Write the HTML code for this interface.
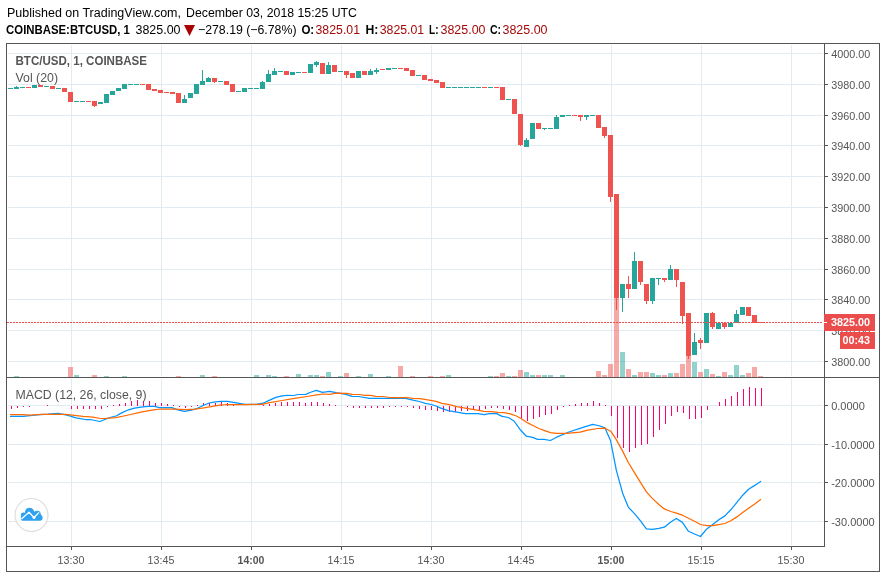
<!DOCTYPE html>
<html lang="en"><head><meta charset="utf-8"><title>BTC/USD - TradingView</title>
<style>
html,body{margin:0;padding:0;background:#fff;}
body{width:886px;height:578px;overflow:hidden;}
svg{display:block;will-change:transform;}
text{font-family:"Liberation Sans",Arial,sans-serif;}
.ax{font-size:11px;fill:#555;}
.hd{font-size:12.5px;fill:#000;}
.b{font-weight:bold;}
.rd{fill:#a80808;}
</style></head><body>
<svg width="886" height="578" viewBox="0 0 886 578">
<rect x="0" y="0" width="886" height="578" fill="#ffffff"/>
<g shape-rendering="crispEdges" fill="#e1ecf2">
<rect x="71" y="45" width="1" height="331"/>
<rect x="71" y="379" width="1" height="166"/>
<rect x="161" y="45" width="1" height="331"/>
<rect x="161" y="379" width="1" height="166"/>
<rect x="251" y="45" width="1" height="331"/>
<rect x="251" y="379" width="1" height="166"/>
<rect x="341" y="45" width="1" height="331"/>
<rect x="341" y="379" width="1" height="166"/>
<rect x="431" y="45" width="1" height="331"/>
<rect x="431" y="379" width="1" height="166"/>
<rect x="521" y="45" width="1" height="331"/>
<rect x="521" y="379" width="1" height="166"/>
<rect x="611" y="45" width="1" height="331"/>
<rect x="611" y="379" width="1" height="166"/>
<rect x="701" y="45" width="1" height="331"/>
<rect x="701" y="379" width="1" height="166"/>
<rect x="791" y="45" width="1" height="331"/>
<rect x="791" y="379" width="1" height="166"/>
<rect x="8" y="53" width="815" height="1"/>
<rect x="8" y="84" width="815" height="1"/>
<rect x="8" y="115" width="815" height="1"/>
<rect x="8" y="145" width="815" height="1"/>
<rect x="8" y="176" width="815" height="1"/>
<rect x="8" y="207" width="815" height="1"/>
<rect x="8" y="238" width="815" height="1"/>
<rect x="8" y="269" width="815" height="1"/>
<rect x="8" y="299" width="815" height="1"/>
<rect x="8" y="330" width="815" height="1"/>
<rect x="8" y="361" width="815" height="1"/>
<rect x="8" y="405" width="815" height="1"/>
<rect x="8" y="444" width="815" height="1"/>
<rect x="8" y="482" width="815" height="1"/>
<rect x="8" y="521" width="815" height="1"/>
</g>
<g shape-rendering="crispEdges">
<rect x="14" y="376" width="5" height="1" fill="rgba(38,166,154,0.5)"/>
<rect x="68" y="367" width="5" height="10" fill="rgba(239,83,80,0.5)"/>
<rect x="74" y="375" width="5" height="2" fill="rgba(38,166,154,0.5)"/>
<rect x="92" y="375" width="5" height="2" fill="rgba(239,83,80,0.5)"/>
<rect x="104" y="376" width="5" height="1" fill="rgba(38,166,154,0.5)"/>
<rect x="122" y="376" width="5" height="1" fill="rgba(38,166,154,0.5)"/>
<rect x="176" y="376" width="5" height="1" fill="rgba(239,83,80,0.5)"/>
<rect x="200" y="375" width="5" height="2" fill="rgba(38,166,154,0.5)"/>
<rect x="212" y="376" width="5" height="1" fill="rgba(239,83,80,0.5)"/>
<rect x="254" y="375" width="5" height="2" fill="rgba(38,166,154,0.5)"/>
<rect x="266" y="375" width="5" height="2" fill="rgba(38,166,154,0.5)"/>
<rect x="272" y="376" width="5" height="1" fill="rgba(38,166,154,0.5)"/>
<rect x="284" y="376" width="5" height="1" fill="rgba(239,83,80,0.5)"/>
<rect x="296" y="374" width="5" height="3" fill="rgba(38,166,154,0.5)"/>
<rect x="308" y="375" width="5" height="2" fill="rgba(38,166,154,0.5)"/>
<rect x="314" y="375" width="5" height="2" fill="rgba(38,166,154,0.5)"/>
<rect x="320" y="376" width="5" height="1" fill="rgba(239,83,80,0.5)"/>
<rect x="326" y="372" width="5" height="5" fill="rgba(38,166,154,0.5)"/>
<rect x="338" y="376" width="5" height="1" fill="rgba(38,166,154,0.5)"/>
<rect x="344" y="373" width="5" height="4" fill="rgba(239,83,80,0.5)"/>
<rect x="356" y="376" width="5" height="1" fill="rgba(38,166,154,0.5)"/>
<rect x="368" y="374" width="5" height="3" fill="rgba(38,166,154,0.5)"/>
<rect x="386" y="376" width="5" height="1" fill="rgba(38,166,154,0.5)"/>
<rect x="398" y="366" width="5" height="11" fill="rgba(239,83,80,0.5)"/>
<rect x="410" y="376" width="5" height="1" fill="rgba(239,83,80,0.5)"/>
<rect x="428" y="376" width="5" height="1" fill="rgba(239,83,80,0.5)"/>
<rect x="440" y="376" width="5" height="1" fill="rgba(239,83,80,0.5)"/>
<rect x="446" y="375" width="5" height="2" fill="rgba(38,166,154,0.5)"/>
<rect x="488" y="376" width="5" height="1" fill="rgba(38,166,154,0.5)"/>
<rect x="494" y="376" width="5" height="1" fill="rgba(239,83,80,0.5)"/>
<rect x="500" y="373" width="5" height="4" fill="rgba(239,83,80,0.5)"/>
<rect x="506" y="376" width="5" height="1" fill="rgba(38,166,154,0.5)"/>
<rect x="512" y="376" width="5" height="1" fill="rgba(239,83,80,0.5)"/>
<rect x="518" y="370" width="5" height="7" fill="rgba(239,83,80,0.5)"/>
<rect x="524" y="372" width="5" height="5" fill="rgba(38,166,154,0.5)"/>
<rect x="530" y="375" width="5" height="2" fill="rgba(38,166,154,0.5)"/>
<rect x="536" y="375" width="5" height="2" fill="rgba(239,83,80,0.5)"/>
<rect x="542" y="375" width="5" height="2" fill="rgba(38,166,154,0.5)"/>
<rect x="548" y="375" width="5" height="2" fill="rgba(38,166,154,0.5)"/>
<rect x="560" y="375" width="5" height="2" fill="rgba(38,166,154,0.5)"/>
<rect x="596" y="371" width="5" height="6" fill="rgba(239,83,80,0.5)"/>
<rect x="602" y="375" width="5" height="2" fill="rgba(239,83,80,0.5)"/>
<rect x="608" y="364" width="5" height="13" fill="rgba(239,83,80,0.5)"/>
<rect x="614" y="298" width="5" height="79" fill="rgba(239,83,80,0.5)"/>
<rect x="620" y="352" width="5" height="25" fill="rgba(38,166,154,0.5)"/>
<rect x="626" y="369" width="5" height="8" fill="rgba(239,83,80,0.5)"/>
<rect x="632" y="375" width="5" height="2" fill="rgba(38,166,154,0.5)"/>
<rect x="638" y="372" width="5" height="5" fill="rgba(239,83,80,0.5)"/>
<rect x="644" y="372" width="5" height="5" fill="rgba(239,83,80,0.5)"/>
<rect x="650" y="373" width="5" height="4" fill="rgba(38,166,154,0.5)"/>
<rect x="656" y="375" width="5" height="2" fill="rgba(38,166,154,0.5)"/>
<rect x="662" y="375" width="5" height="2" fill="rgba(239,83,80,0.5)"/>
<rect x="668" y="373" width="5" height="4" fill="rgba(38,166,154,0.5)"/>
<rect x="674" y="373" width="5" height="4" fill="rgba(239,83,80,0.5)"/>
<rect x="680" y="364" width="5" height="13" fill="rgba(239,83,80,0.5)"/>
<rect x="686" y="356" width="5" height="21" fill="rgba(239,83,80,0.5)"/>
<rect x="692" y="362" width="5" height="15" fill="rgba(38,166,154,0.5)"/>
<rect x="698" y="372" width="5" height="5" fill="rgba(239,83,80,0.5)"/>
<rect x="704" y="369" width="5" height="8" fill="rgba(38,166,154,0.5)"/>
<rect x="710" y="374" width="5" height="3" fill="rgba(239,83,80,0.5)"/>
<rect x="716" y="376" width="5" height="1" fill="rgba(38,166,154,0.5)"/>
<rect x="722" y="372" width="5" height="5" fill="rgba(239,83,80,0.5)"/>
<rect x="728" y="375" width="5" height="2" fill="rgba(38,166,154,0.5)"/>
<rect x="734" y="365" width="5" height="12" fill="rgba(38,166,154,0.5)"/>
<rect x="740" y="375" width="5" height="2" fill="rgba(38,166,154,0.5)"/>
<rect x="746" y="373" width="5" height="4" fill="rgba(239,83,80,0.5)"/>
<rect x="752" y="367" width="5" height="10" fill="rgba(239,83,80,0.5)"/>
<rect x="758" y="376" width="5" height="1" fill="rgba(239,83,80,0.5)"/>
</g>
<g shape-rendering="crispEdges">
<rect x="8" y="88" width="5" height="1" fill="#26a69a"/>
<rect x="16" y="86" width="1" height="3" fill="#26a69a"/>
<rect x="14" y="87" width="5" height="2" fill="#26a69a"/>
<rect x="20" y="87" width="5" height="1" fill="#26a69a"/>
<rect x="26" y="87" width="5" height="1" fill="#ef5350"/>
<rect x="32" y="85" width="5" height="3" fill="#26a69a"/>
<rect x="38" y="85" width="5" height="2" fill="#ef5350"/>
<rect x="44" y="86" width="5" height="1" fill="#26a69a"/>
<rect x="50" y="86" width="5" height="3" fill="#ef5350"/>
<rect x="56" y="88" width="5" height="1" fill="#26a69a"/>
<rect x="62" y="88" width="5" height="4" fill="#ef5350"/>
<rect x="68" y="92" width="5" height="10" fill="#ef5350"/>
<rect x="74" y="101" width="5" height="1" fill="#26a69a"/>
<rect x="80" y="101" width="5" height="1" fill="#26a69a"/>
<rect x="86" y="101" width="5" height="1" fill="#ef5350"/>
<rect x="94" y="101" width="1" height="6" fill="#ef5350"/>
<rect x="92" y="101" width="5" height="5" fill="#ef5350"/>
<rect x="98" y="102" width="5" height="2" fill="#26a69a"/>
<rect x="104" y="94" width="5" height="9" fill="#26a69a"/>
<rect x="110" y="91" width="5" height="4" fill="#26a69a"/>
<rect x="116" y="88" width="5" height="3" fill="#26a69a"/>
<rect x="122" y="84" width="5" height="5" fill="#26a69a"/>
<rect x="128" y="84" width="5" height="1" fill="#26a69a"/>
<rect x="134" y="84" width="5" height="1" fill="#26a69a"/>
<rect x="140" y="84" width="5" height="1" fill="#ef5350"/>
<rect x="146" y="84" width="5" height="6" fill="#ef5350"/>
<rect x="152" y="89" width="5" height="2" fill="#ef5350"/>
<rect x="158" y="90" width="5" height="3" fill="#ef5350"/>
<rect x="164" y="92" width="5" height="1" fill="#ef5350"/>
<rect x="170" y="92" width="5" height="2" fill="#ef5350"/>
<rect x="176" y="93" width="5" height="10" fill="#ef5350"/>
<rect x="184" y="95" width="1" height="8" fill="#26a69a"/>
<rect x="182" y="99" width="5" height="4" fill="#26a69a"/>
<rect x="188" y="93" width="5" height="5" fill="#26a69a"/>
<rect x="194" y="84" width="5" height="10" fill="#26a69a"/>
<rect x="202" y="70" width="1" height="15" fill="#26a69a"/>
<rect x="200" y="81" width="5" height="4" fill="#26a69a"/>
<rect x="208" y="77" width="1" height="5" fill="#26a69a"/>
<rect x="206" y="78" width="5" height="4" fill="#26a69a"/>
<rect x="214" y="78" width="1" height="5" fill="#ef5350"/>
<rect x="212" y="78" width="5" height="4" fill="#ef5350"/>
<rect x="218" y="81" width="5" height="1" fill="#26a69a"/>
<rect x="224" y="81" width="5" height="4" fill="#ef5350"/>
<rect x="230" y="84" width="5" height="8" fill="#ef5350"/>
<rect x="236" y="91" width="5" height="1" fill="#26a69a"/>
<rect x="242" y="88" width="5" height="4" fill="#26a69a"/>
<rect x="248" y="88" width="5" height="1" fill="#26a69a"/>
<rect x="254" y="88" width="5" height="1" fill="#26a69a"/>
<rect x="262" y="81" width="1" height="8" fill="#26a69a"/>
<rect x="260" y="82" width="5" height="7" fill="#26a69a"/>
<rect x="268" y="70" width="1" height="12" fill="#26a69a"/>
<rect x="266" y="74" width="5" height="8" fill="#26a69a"/>
<rect x="274" y="68" width="1" height="7" fill="#26a69a"/>
<rect x="272" y="71" width="5" height="4" fill="#26a69a"/>
<rect x="278" y="71" width="5" height="1" fill="#26a69a"/>
<rect x="284" y="71" width="5" height="4" fill="#ef5350"/>
<rect x="290" y="72" width="5" height="3" fill="#26a69a"/>
<rect x="296" y="72" width="5" height="1" fill="#26a69a"/>
<rect x="302" y="72" width="5" height="1" fill="#ef5350"/>
<rect x="308" y="64" width="5" height="9" fill="#26a69a"/>
<rect x="316" y="61" width="1" height="6" fill="#26a69a"/>
<rect x="314" y="62" width="5" height="3" fill="#26a69a"/>
<rect x="320" y="63" width="5" height="11" fill="#ef5350"/>
<rect x="328" y="62" width="1" height="12" fill="#26a69a"/>
<rect x="326" y="65" width="5" height="9" fill="#26a69a"/>
<rect x="332" y="65" width="5" height="7" fill="#ef5350"/>
<rect x="338" y="71" width="5" height="1" fill="#26a69a"/>
<rect x="346" y="71" width="1" height="7" fill="#ef5350"/>
<rect x="344" y="71" width="5" height="4" fill="#ef5350"/>
<rect x="350" y="73" width="5" height="5" fill="#ef5350"/>
<rect x="356" y="71" width="5" height="7" fill="#26a69a"/>
<rect x="362" y="71" width="5" height="4" fill="#ef5350"/>
<rect x="370" y="69" width="1" height="6" fill="#26a69a"/>
<rect x="368" y="71" width="5" height="4" fill="#26a69a"/>
<rect x="376" y="68" width="1" height="6" fill="#26a69a"/>
<rect x="374" y="70" width="5" height="2" fill="#26a69a"/>
<rect x="380" y="69" width="5" height="1" fill="#ef5350"/>
<rect x="386" y="68" width="5" height="2" fill="#26a69a"/>
<rect x="392" y="68" width="5" height="1" fill="#26a69a"/>
<rect x="398" y="68" width="5" height="1" fill="#ef5350"/>
<rect x="404" y="68" width="5" height="3" fill="#ef5350"/>
<rect x="410" y="70" width="5" height="6" fill="#ef5350"/>
<rect x="416" y="75" width="5" height="1" fill="#26a69a"/>
<rect x="422" y="75" width="5" height="5" fill="#ef5350"/>
<rect x="428" y="79" width="5" height="2" fill="#ef5350"/>
<rect x="434" y="80" width="5" height="3" fill="#ef5350"/>
<rect x="440" y="82" width="5" height="6" fill="#ef5350"/>
<rect x="446" y="87" width="5" height="1" fill="#26a69a"/>
<rect x="452" y="87" width="5" height="1" fill="#26a69a"/>
<rect x="458" y="87" width="5" height="1" fill="#26a69a"/>
<rect x="464" y="87" width="5" height="1" fill="#26a69a"/>
<rect x="470" y="87" width="5" height="1" fill="#26a69a"/>
<rect x="476" y="87" width="5" height="1" fill="#26a69a"/>
<rect x="482" y="87" width="5" height="1" fill="#ef5350"/>
<rect x="488" y="87" width="5" height="1" fill="#26a69a"/>
<rect x="494" y="87" width="5" height="1" fill="#ef5350"/>
<rect x="500" y="87" width="5" height="13" fill="#ef5350"/>
<rect x="506" y="99" width="5" height="1" fill="#26a69a"/>
<rect x="512" y="99" width="5" height="15" fill="#ef5350"/>
<rect x="520" y="114" width="1" height="32" fill="#ef5350"/>
<rect x="518" y="114" width="5" height="31" fill="#ef5350"/>
<rect x="526" y="138" width="1" height="9" fill="#26a69a"/>
<rect x="524" y="140" width="5" height="7" fill="#26a69a"/>
<rect x="530" y="123" width="5" height="16" fill="#26a69a"/>
<rect x="536" y="123" width="5" height="6" fill="#ef5350"/>
<rect x="544" y="128" width="1" height="2" fill="#26a69a"/>
<rect x="542" y="128" width="5" height="1" fill="#26a69a"/>
<rect x="548" y="128" width="5" height="1" fill="#26a69a"/>
<rect x="556" y="115" width="1" height="14" fill="#26a69a"/>
<rect x="554" y="117" width="5" height="12" fill="#26a69a"/>
<rect x="560" y="115" width="5" height="2" fill="#26a69a"/>
<rect x="566" y="115" width="5" height="1" fill="#26a69a"/>
<rect x="572" y="115" width="5" height="1" fill="#ef5350"/>
<rect x="580" y="115" width="1" height="6" fill="#ef5350"/>
<rect x="578" y="115" width="5" height="2" fill="#ef5350"/>
<rect x="586" y="115" width="1" height="5" fill="#26a69a"/>
<rect x="584" y="115" width="5" height="2" fill="#26a69a"/>
<rect x="590" y="115" width="5" height="1" fill="#26a69a"/>
<rect x="596" y="115" width="5" height="13" fill="#ef5350"/>
<rect x="604" y="127" width="1" height="11" fill="#ef5350"/>
<rect x="602" y="127" width="5" height="9" fill="#ef5350"/>
<rect x="610" y="135" width="1" height="67" fill="#ef5350"/>
<rect x="608" y="135" width="5" height="62" fill="#ef5350"/>
<rect x="616" y="194" width="1" height="116" fill="#ef5350"/>
<rect x="614" y="194" width="5" height="104" fill="#ef5350"/>
<rect x="622" y="284" width="1" height="28" fill="#26a69a"/>
<rect x="620" y="284" width="5" height="14" fill="#26a69a"/>
<rect x="628" y="276" width="1" height="22" fill="#ef5350"/>
<rect x="626" y="284" width="5" height="5" fill="#ef5350"/>
<rect x="634" y="252" width="1" height="37" fill="#26a69a"/>
<rect x="632" y="261" width="5" height="28" fill="#26a69a"/>
<rect x="640" y="261" width="1" height="24" fill="#ef5350"/>
<rect x="638" y="261" width="5" height="21" fill="#ef5350"/>
<rect x="646" y="284" width="1" height="20" fill="#ef5350"/>
<rect x="644" y="284" width="5" height="17" fill="#ef5350"/>
<rect x="652" y="278" width="1" height="26" fill="#26a69a"/>
<rect x="650" y="278" width="5" height="23" fill="#26a69a"/>
<rect x="658" y="278" width="1" height="7" fill="#26a69a"/>
<rect x="656" y="278" width="5" height="1" fill="#26a69a"/>
<rect x="664" y="278" width="1" height="4" fill="#ef5350"/>
<rect x="662" y="278" width="5" height="2" fill="#ef5350"/>
<rect x="670" y="265" width="1" height="15" fill="#26a69a"/>
<rect x="668" y="269" width="5" height="11" fill="#26a69a"/>
<rect x="676" y="269" width="1" height="18" fill="#ef5350"/>
<rect x="674" y="269" width="5" height="11" fill="#ef5350"/>
<rect x="682" y="282" width="1" height="42" fill="#ef5350"/>
<rect x="680" y="282" width="5" height="34" fill="#ef5350"/>
<rect x="688" y="313" width="1" height="46" fill="#ef5350"/>
<rect x="686" y="313" width="5" height="43" fill="#ef5350"/>
<rect x="694" y="333" width="1" height="22" fill="#26a69a"/>
<rect x="692" y="342" width="5" height="13" fill="#26a69a"/>
<rect x="700" y="338" width="1" height="11" fill="#ef5350"/>
<rect x="698" y="340" width="5" height="3" fill="#ef5350"/>
<rect x="704" y="313" width="5" height="30" fill="#26a69a"/>
<rect x="712" y="312" width="1" height="17" fill="#ef5350"/>
<rect x="710" y="313" width="5" height="14" fill="#ef5350"/>
<rect x="716" y="323" width="5" height="6" fill="#26a69a"/>
<rect x="724" y="322" width="1" height="7" fill="#ef5350"/>
<rect x="722" y="323" width="5" height="4" fill="#ef5350"/>
<rect x="728" y="323" width="5" height="4" fill="#26a69a"/>
<rect x="736" y="310" width="1" height="13" fill="#26a69a"/>
<rect x="734" y="314" width="5" height="9" fill="#26a69a"/>
<rect x="740" y="307" width="5" height="8" fill="#26a69a"/>
<rect x="746" y="307" width="5" height="9" fill="#ef5350"/>
<rect x="752" y="315" width="5" height="8" fill="#ef5350"/>
<rect x="758" y="322" width="5" height="1" fill="#ef5350"/>
</g>
<g shape-rendering="crispEdges" fill="#eb4d4d">
<rect x="7" y="322" width="2" height="1"/>
<rect x="10" y="322" width="2" height="1"/>
<rect x="13" y="322" width="2" height="1"/>
<rect x="16" y="322" width="2" height="1"/>
<rect x="19" y="322" width="2" height="1"/>
<rect x="22" y="322" width="2" height="1"/>
<rect x="25" y="322" width="2" height="1"/>
<rect x="28" y="322" width="2" height="1"/>
<rect x="31" y="322" width="2" height="1"/>
<rect x="34" y="322" width="2" height="1"/>
<rect x="37" y="322" width="2" height="1"/>
<rect x="40" y="322" width="2" height="1"/>
<rect x="43" y="322" width="2" height="1"/>
<rect x="46" y="322" width="2" height="1"/>
<rect x="49" y="322" width="2" height="1"/>
<rect x="52" y="322" width="2" height="1"/>
<rect x="55" y="322" width="2" height="1"/>
<rect x="58" y="322" width="2" height="1"/>
<rect x="61" y="322" width="2" height="1"/>
<rect x="64" y="322" width="2" height="1"/>
<rect x="67" y="322" width="2" height="1"/>
<rect x="70" y="322" width="2" height="1"/>
<rect x="73" y="322" width="2" height="1"/>
<rect x="76" y="322" width="2" height="1"/>
<rect x="79" y="322" width="2" height="1"/>
<rect x="82" y="322" width="2" height="1"/>
<rect x="85" y="322" width="2" height="1"/>
<rect x="88" y="322" width="2" height="1"/>
<rect x="91" y="322" width="2" height="1"/>
<rect x="94" y="322" width="2" height="1"/>
<rect x="97" y="322" width="2" height="1"/>
<rect x="100" y="322" width="2" height="1"/>
<rect x="103" y="322" width="2" height="1"/>
<rect x="106" y="322" width="2" height="1"/>
<rect x="109" y="322" width="2" height="1"/>
<rect x="112" y="322" width="2" height="1"/>
<rect x="115" y="322" width="2" height="1"/>
<rect x="118" y="322" width="2" height="1"/>
<rect x="121" y="322" width="2" height="1"/>
<rect x="124" y="322" width="2" height="1"/>
<rect x="127" y="322" width="2" height="1"/>
<rect x="130" y="322" width="2" height="1"/>
<rect x="133" y="322" width="2" height="1"/>
<rect x="136" y="322" width="2" height="1"/>
<rect x="139" y="322" width="2" height="1"/>
<rect x="142" y="322" width="2" height="1"/>
<rect x="145" y="322" width="2" height="1"/>
<rect x="148" y="322" width="2" height="1"/>
<rect x="151" y="322" width="2" height="1"/>
<rect x="154" y="322" width="2" height="1"/>
<rect x="157" y="322" width="2" height="1"/>
<rect x="160" y="322" width="2" height="1"/>
<rect x="163" y="322" width="2" height="1"/>
<rect x="166" y="322" width="2" height="1"/>
<rect x="169" y="322" width="2" height="1"/>
<rect x="172" y="322" width="2" height="1"/>
<rect x="175" y="322" width="2" height="1"/>
<rect x="178" y="322" width="2" height="1"/>
<rect x="181" y="322" width="2" height="1"/>
<rect x="184" y="322" width="2" height="1"/>
<rect x="187" y="322" width="2" height="1"/>
<rect x="190" y="322" width="2" height="1"/>
<rect x="193" y="322" width="2" height="1"/>
<rect x="196" y="322" width="2" height="1"/>
<rect x="199" y="322" width="2" height="1"/>
<rect x="202" y="322" width="2" height="1"/>
<rect x="205" y="322" width="2" height="1"/>
<rect x="208" y="322" width="2" height="1"/>
<rect x="211" y="322" width="2" height="1"/>
<rect x="214" y="322" width="2" height="1"/>
<rect x="217" y="322" width="2" height="1"/>
<rect x="220" y="322" width="2" height="1"/>
<rect x="223" y="322" width="2" height="1"/>
<rect x="226" y="322" width="2" height="1"/>
<rect x="229" y="322" width="2" height="1"/>
<rect x="232" y="322" width="2" height="1"/>
<rect x="235" y="322" width="2" height="1"/>
<rect x="238" y="322" width="2" height="1"/>
<rect x="241" y="322" width="2" height="1"/>
<rect x="244" y="322" width="2" height="1"/>
<rect x="247" y="322" width="2" height="1"/>
<rect x="250" y="322" width="2" height="1"/>
<rect x="253" y="322" width="2" height="1"/>
<rect x="256" y="322" width="2" height="1"/>
<rect x="259" y="322" width="2" height="1"/>
<rect x="262" y="322" width="2" height="1"/>
<rect x="265" y="322" width="2" height="1"/>
<rect x="268" y="322" width="2" height="1"/>
<rect x="271" y="322" width="2" height="1"/>
<rect x="274" y="322" width="2" height="1"/>
<rect x="277" y="322" width="2" height="1"/>
<rect x="280" y="322" width="2" height="1"/>
<rect x="283" y="322" width="2" height="1"/>
<rect x="286" y="322" width="2" height="1"/>
<rect x="289" y="322" width="2" height="1"/>
<rect x="292" y="322" width="2" height="1"/>
<rect x="295" y="322" width="2" height="1"/>
<rect x="298" y="322" width="2" height="1"/>
<rect x="301" y="322" width="2" height="1"/>
<rect x="304" y="322" width="2" height="1"/>
<rect x="307" y="322" width="2" height="1"/>
<rect x="310" y="322" width="2" height="1"/>
<rect x="313" y="322" width="2" height="1"/>
<rect x="316" y="322" width="2" height="1"/>
<rect x="319" y="322" width="2" height="1"/>
<rect x="322" y="322" width="2" height="1"/>
<rect x="325" y="322" width="2" height="1"/>
<rect x="328" y="322" width="2" height="1"/>
<rect x="331" y="322" width="2" height="1"/>
<rect x="334" y="322" width="2" height="1"/>
<rect x="337" y="322" width="2" height="1"/>
<rect x="340" y="322" width="2" height="1"/>
<rect x="343" y="322" width="2" height="1"/>
<rect x="346" y="322" width="2" height="1"/>
<rect x="349" y="322" width="2" height="1"/>
<rect x="352" y="322" width="2" height="1"/>
<rect x="355" y="322" width="2" height="1"/>
<rect x="358" y="322" width="2" height="1"/>
<rect x="361" y="322" width="2" height="1"/>
<rect x="364" y="322" width="2" height="1"/>
<rect x="367" y="322" width="2" height="1"/>
<rect x="370" y="322" width="2" height="1"/>
<rect x="373" y="322" width="2" height="1"/>
<rect x="376" y="322" width="2" height="1"/>
<rect x="379" y="322" width="2" height="1"/>
<rect x="382" y="322" width="2" height="1"/>
<rect x="385" y="322" width="2" height="1"/>
<rect x="388" y="322" width="2" height="1"/>
<rect x="391" y="322" width="2" height="1"/>
<rect x="394" y="322" width="2" height="1"/>
<rect x="397" y="322" width="2" height="1"/>
<rect x="400" y="322" width="2" height="1"/>
<rect x="403" y="322" width="2" height="1"/>
<rect x="406" y="322" width="2" height="1"/>
<rect x="409" y="322" width="2" height="1"/>
<rect x="412" y="322" width="2" height="1"/>
<rect x="415" y="322" width="2" height="1"/>
<rect x="418" y="322" width="2" height="1"/>
<rect x="421" y="322" width="2" height="1"/>
<rect x="424" y="322" width="2" height="1"/>
<rect x="427" y="322" width="2" height="1"/>
<rect x="430" y="322" width="2" height="1"/>
<rect x="433" y="322" width="2" height="1"/>
<rect x="436" y="322" width="2" height="1"/>
<rect x="439" y="322" width="2" height="1"/>
<rect x="442" y="322" width="2" height="1"/>
<rect x="445" y="322" width="2" height="1"/>
<rect x="448" y="322" width="2" height="1"/>
<rect x="451" y="322" width="2" height="1"/>
<rect x="454" y="322" width="2" height="1"/>
<rect x="457" y="322" width="2" height="1"/>
<rect x="460" y="322" width="2" height="1"/>
<rect x="463" y="322" width="2" height="1"/>
<rect x="466" y="322" width="2" height="1"/>
<rect x="469" y="322" width="2" height="1"/>
<rect x="472" y="322" width="2" height="1"/>
<rect x="475" y="322" width="2" height="1"/>
<rect x="478" y="322" width="2" height="1"/>
<rect x="481" y="322" width="2" height="1"/>
<rect x="484" y="322" width="2" height="1"/>
<rect x="487" y="322" width="2" height="1"/>
<rect x="490" y="322" width="2" height="1"/>
<rect x="493" y="322" width="2" height="1"/>
<rect x="496" y="322" width="2" height="1"/>
<rect x="499" y="322" width="2" height="1"/>
<rect x="502" y="322" width="2" height="1"/>
<rect x="505" y="322" width="2" height="1"/>
<rect x="508" y="322" width="2" height="1"/>
<rect x="511" y="322" width="2" height="1"/>
<rect x="514" y="322" width="2" height="1"/>
<rect x="517" y="322" width="2" height="1"/>
<rect x="520" y="322" width="2" height="1"/>
<rect x="523" y="322" width="2" height="1"/>
<rect x="526" y="322" width="2" height="1"/>
<rect x="529" y="322" width="2" height="1"/>
<rect x="532" y="322" width="2" height="1"/>
<rect x="535" y="322" width="2" height="1"/>
<rect x="538" y="322" width="2" height="1"/>
<rect x="541" y="322" width="2" height="1"/>
<rect x="544" y="322" width="2" height="1"/>
<rect x="547" y="322" width="2" height="1"/>
<rect x="550" y="322" width="2" height="1"/>
<rect x="553" y="322" width="2" height="1"/>
<rect x="556" y="322" width="2" height="1"/>
<rect x="559" y="322" width="2" height="1"/>
<rect x="562" y="322" width="2" height="1"/>
<rect x="565" y="322" width="2" height="1"/>
<rect x="568" y="322" width="2" height="1"/>
<rect x="571" y="322" width="2" height="1"/>
<rect x="574" y="322" width="2" height="1"/>
<rect x="577" y="322" width="2" height="1"/>
<rect x="580" y="322" width="2" height="1"/>
<rect x="583" y="322" width="2" height="1"/>
<rect x="586" y="322" width="2" height="1"/>
<rect x="589" y="322" width="2" height="1"/>
<rect x="592" y="322" width="2" height="1"/>
<rect x="595" y="322" width="2" height="1"/>
<rect x="598" y="322" width="2" height="1"/>
<rect x="601" y="322" width="2" height="1"/>
<rect x="604" y="322" width="2" height="1"/>
<rect x="607" y="322" width="2" height="1"/>
<rect x="610" y="322" width="2" height="1"/>
<rect x="613" y="322" width="2" height="1"/>
<rect x="616" y="322" width="2" height="1"/>
<rect x="619" y="322" width="2" height="1"/>
<rect x="622" y="322" width="2" height="1"/>
<rect x="625" y="322" width="2" height="1"/>
<rect x="628" y="322" width="2" height="1"/>
<rect x="631" y="322" width="2" height="1"/>
<rect x="634" y="322" width="2" height="1"/>
<rect x="637" y="322" width="2" height="1"/>
<rect x="640" y="322" width="2" height="1"/>
<rect x="643" y="322" width="2" height="1"/>
<rect x="646" y="322" width="2" height="1"/>
<rect x="649" y="322" width="2" height="1"/>
<rect x="652" y="322" width="2" height="1"/>
<rect x="655" y="322" width="2" height="1"/>
<rect x="658" y="322" width="2" height="1"/>
<rect x="661" y="322" width="2" height="1"/>
<rect x="664" y="322" width="2" height="1"/>
<rect x="667" y="322" width="2" height="1"/>
<rect x="670" y="322" width="2" height="1"/>
<rect x="673" y="322" width="2" height="1"/>
<rect x="676" y="322" width="2" height="1"/>
<rect x="679" y="322" width="2" height="1"/>
<rect x="682" y="322" width="2" height="1"/>
<rect x="685" y="322" width="2" height="1"/>
<rect x="688" y="322" width="2" height="1"/>
<rect x="691" y="322" width="2" height="1"/>
<rect x="694" y="322" width="2" height="1"/>
<rect x="697" y="322" width="2" height="1"/>
<rect x="700" y="322" width="2" height="1"/>
<rect x="703" y="322" width="2" height="1"/>
<rect x="706" y="322" width="2" height="1"/>
<rect x="709" y="322" width="2" height="1"/>
<rect x="712" y="322" width="2" height="1"/>
<rect x="715" y="322" width="2" height="1"/>
<rect x="718" y="322" width="2" height="1"/>
<rect x="721" y="322" width="2" height="1"/>
<rect x="724" y="322" width="2" height="1"/>
<rect x="727" y="322" width="2" height="1"/>
<rect x="730" y="322" width="2" height="1"/>
<rect x="733" y="322" width="2" height="1"/>
<rect x="736" y="322" width="2" height="1"/>
<rect x="739" y="322" width="2" height="1"/>
<rect x="742" y="322" width="2" height="1"/>
<rect x="745" y="322" width="2" height="1"/>
<rect x="748" y="322" width="2" height="1"/>
<rect x="751" y="322" width="2" height="1"/>
<rect x="754" y="322" width="2" height="1"/>
<rect x="757" y="322" width="2" height="1"/>
<rect x="760" y="322" width="2" height="1"/>
<rect x="763" y="322" width="2" height="1"/>
<rect x="766" y="322" width="2" height="1"/>
<rect x="769" y="322" width="2" height="1"/>
<rect x="772" y="322" width="2" height="1"/>
<rect x="775" y="322" width="2" height="1"/>
<rect x="778" y="322" width="2" height="1"/>
<rect x="781" y="322" width="2" height="1"/>
<rect x="784" y="322" width="2" height="1"/>
<rect x="787" y="322" width="2" height="1"/>
<rect x="790" y="322" width="2" height="1"/>
<rect x="793" y="322" width="2" height="1"/>
<rect x="796" y="322" width="2" height="1"/>
<rect x="799" y="322" width="2" height="1"/>
<rect x="802" y="322" width="2" height="1"/>
<rect x="805" y="322" width="2" height="1"/>
<rect x="808" y="322" width="2" height="1"/>
<rect x="811" y="322" width="2" height="1"/>
<rect x="814" y="322" width="2" height="1"/>
<rect x="817" y="322" width="2" height="1"/>
<rect x="820" y="322" width="2" height="1"/>
</g>
<g shape-rendering="crispEdges" fill="#ff006e">
<rect x="11" y="406" width="1" height="3"/>
<rect x="17" y="406" width="1" height="2"/>
<rect x="23" y="406" width="1" height="1"/>
<rect x="29" y="406" width="1" height="1"/>
<rect x="47" y="405" width="1" height="1"/>
<rect x="71" y="406" width="1" height="3"/>
<rect x="77" y="406" width="1" height="3"/>
<rect x="83" y="406" width="1" height="3"/>
<rect x="89" y="406" width="1" height="3"/>
<rect x="95" y="406" width="1" height="3"/>
<rect x="101" y="406" width="1" height="3"/>
<rect x="107" y="406" width="1" height="1"/>
<rect x="113" y="405" width="1" height="1"/>
<rect x="119" y="404" width="1" height="2"/>
<rect x="125" y="403" width="1" height="3"/>
<rect x="131" y="401" width="1" height="5"/>
<rect x="137" y="400" width="1" height="6"/>
<rect x="143" y="401" width="1" height="5"/>
<rect x="149" y="401" width="1" height="5"/>
<rect x="155" y="403" width="1" height="3"/>
<rect x="161" y="403" width="1" height="3"/>
<rect x="167" y="404" width="1" height="2"/>
<rect x="173" y="405" width="1" height="1"/>
<rect x="179" y="406" width="1" height="1"/>
<rect x="185" y="406" width="1" height="2"/>
<rect x="191" y="406" width="1" height="1"/>
<rect x="197" y="405" width="1" height="1"/>
<rect x="203" y="403" width="1" height="3"/>
<rect x="209" y="403" width="1" height="3"/>
<rect x="215" y="403" width="1" height="3"/>
<rect x="221" y="402" width="1" height="4"/>
<rect x="227" y="403" width="1" height="3"/>
<rect x="233" y="405" width="1" height="1"/>
<rect x="263" y="405" width="1" height="1"/>
<rect x="269" y="404" width="1" height="2"/>
<rect x="275" y="403" width="1" height="3"/>
<rect x="281" y="402" width="1" height="4"/>
<rect x="287" y="402" width="1" height="4"/>
<rect x="293" y="402" width="1" height="4"/>
<rect x="299" y="402" width="1" height="4"/>
<rect x="305" y="403" width="1" height="3"/>
<rect x="311" y="402" width="1" height="4"/>
<rect x="317" y="402" width="1" height="4"/>
<rect x="323" y="403" width="1" height="3"/>
<rect x="329" y="404" width="1" height="2"/>
<rect x="335" y="405" width="1" height="1"/>
<rect x="347" y="406" width="1" height="1"/>
<rect x="353" y="406" width="1" height="2"/>
<rect x="359" y="406" width="1" height="2"/>
<rect x="365" y="406" width="1" height="2"/>
<rect x="371" y="406" width="1" height="2"/>
<rect x="377" y="406" width="1" height="2"/>
<rect x="383" y="406" width="1" height="2"/>
<rect x="389" y="406" width="1" height="1"/>
<rect x="395" y="406" width="1" height="1"/>
<rect x="401" y="406" width="1" height="1"/>
<rect x="407" y="406" width="1" height="1"/>
<rect x="413" y="406" width="1" height="2"/>
<rect x="419" y="406" width="1" height="3"/>
<rect x="425" y="406" width="1" height="4"/>
<rect x="431" y="406" width="1" height="4"/>
<rect x="437" y="406" width="1" height="5"/>
<rect x="443" y="406" width="1" height="6"/>
<rect x="449" y="406" width="1" height="6"/>
<rect x="455" y="406" width="1" height="6"/>
<rect x="461" y="406" width="1" height="5"/>
<rect x="467" y="406" width="1" height="5"/>
<rect x="473" y="406" width="1" height="4"/>
<rect x="479" y="406" width="1" height="4"/>
<rect x="485" y="406" width="1" height="3"/>
<rect x="491" y="406" width="1" height="2"/>
<rect x="497" y="406" width="1" height="2"/>
<rect x="503" y="406" width="1" height="3"/>
<rect x="509" y="406" width="1" height="4"/>
<rect x="515" y="406" width="1" height="6"/>
<rect x="521" y="406" width="1" height="12"/>
<rect x="527" y="406" width="1" height="15"/>
<rect x="533" y="406" width="1" height="13"/>
<rect x="539" y="406" width="1" height="11"/>
<rect x="545" y="406" width="1" height="9"/>
<rect x="551" y="406" width="1" height="8"/>
<rect x="557" y="406" width="1" height="4"/>
<rect x="563" y="406" width="1" height="1"/>
<rect x="569" y="405" width="1" height="1"/>
<rect x="575" y="404" width="1" height="2"/>
<rect x="581" y="403" width="1" height="3"/>
<rect x="587" y="403" width="1" height="3"/>
<rect x="593" y="401" width="1" height="5"/>
<rect x="599" y="403" width="1" height="3"/>
<rect x="605" y="405" width="1" height="1"/>
<rect x="611" y="406" width="1" height="10"/>
<rect x="617" y="406" width="1" height="32"/>
<rect x="623" y="406" width="1" height="42"/>
<rect x="629" y="406" width="1" height="46"/>
<rect x="635" y="406" width="1" height="42"/>
<rect x="641" y="406" width="1" height="39"/>
<rect x="647" y="406" width="1" height="38"/>
<rect x="653" y="406" width="1" height="31"/>
<rect x="659" y="406" width="1" height="24"/>
<rect x="665" y="406" width="1" height="18"/>
<rect x="671" y="406" width="1" height="10"/>
<rect x="677" y="406" width="1" height="6"/>
<rect x="683" y="406" width="1" height="7"/>
<rect x="689" y="406" width="1" height="13"/>
<rect x="695" y="406" width="1" height="13"/>
<rect x="701" y="406" width="1" height="12"/>
<rect x="707" y="406" width="1" height="4"/>
<rect x="719" y="402" width="1" height="4"/>
<rect x="725" y="399" width="1" height="7"/>
<rect x="731" y="396" width="1" height="10"/>
<rect x="737" y="392" width="1" height="14"/>
<rect x="743" y="389" width="1" height="17"/>
<rect x="749" y="387" width="1" height="19"/>
<rect x="755" y="388" width="1" height="18"/>
<rect x="761" y="388" width="1" height="18"/>
</g>
<polyline points="10.5,416.4 23.4,416.4 30.0,415.6 37.0,414.8 48.0,414.2 58.2,413.3 65.6,414.8 68.0,415.3 76.0,417.9 80.4,418.7 85.5,419.5 90.4,419.5 99.8,421.5 110.0,417.5 116.0,416.0 122.2,412.6 128.4,409.8 134.6,408.2 140.8,407.1 148.3,406.4 154.5,406.4 159.5,407.6 171.9,407.6 176.9,409.6 184.3,411.3 191.8,410.1 198.0,408.0 203.0,405.5 209.2,403.0 215.4,401.8 221.0,401.4 227.5,401.4 235.0,402.7 244.8,404.4 256.0,404.4 262.9,403.2 269.7,400.1 275.9,397.4 282.1,395.8 287.1,395.3 293.3,395.5 298.3,394.5 305.7,394.3 311.3,392.0 316.3,390.3 322.5,392.4 329.7,391.4 335.9,392.7 345.9,394.3 352.1,396.4 358.3,396.5 369.5,398.4 405.5,398.3 413.0,400.2 419.2,401.5 425.4,403.4 431.6,404.5 436.0,406.0 439.5,407.6 448.1,410.7 456.8,412.1 465.5,413.6 478.0,413.6 484.2,414.6 489.1,413.7 496.6,413.6 502.2,416.4 508.4,417.5 514.0,421.0 520.2,429.7 526.4,436.2 532.6,437.4 537.6,439.3 544.2,439.4 550.4,440.5 556.6,437.2 569.0,432.0 581.5,427.9 592.7,424.4 600.1,426.0 605.0,427.9 610.5,440.5 616.3,470.1 622.9,494.1 628.3,507.1 634.9,514.1 640.3,520.7 646.4,528.9 652.3,529.4 658.8,528.3 664.3,527.2 670.8,522.0 676.3,518.5 682.4,522.4 688.5,531.3 694.5,534.0 700.5,536.5 706.8,528.9 712.7,524.6 718.8,519.8 724.9,515.9 730.8,509.8 736.9,502.4 742.7,495.2 748.6,489.3 754.7,485.4 760.6,481.4" fill="none" stroke="#0094ff" stroke-width="1.25" stroke-linejoin="round" stroke-linecap="round"/>
<polyline points="10.5,414.6 22.0,414.6 30.8,415.2 40.8,414.4 65.6,414.4 83.0,416.3 93.0,417.1 100.4,418.5 106.0,418.3 116.0,417.7 128.4,415.0 140.8,412.1 153.3,409.8 160.7,409.0 175.6,409.2 185.6,409.6 195.5,409.2 205.4,407.6 215.4,405.9 220.0,405.2 227.5,404.5 244.8,404.5 262.2,404.3 269.7,402.7 282.1,400.5 294.5,398.4 307.0,396.5 316.9,394.9 323.1,394.0 329.7,394.3 335.9,393.2 347.1,393.4 352.1,394.4 359.5,394.5 364.5,395.4 370.7,395.4 375.7,396.3 383.1,396.5 389.4,397.5 406.7,397.5 413.0,398.4 420.4,398.6 429.1,400.1 436.0,401.4 441.9,403.3 449.4,404.6 456.8,406.6 466.8,408.4 475.5,409.8 484.2,411.3 491.6,411.6 497.8,412.3 504.0,412.6 510.3,413.9 516.5,416.0 521.4,418.8 527.7,422.9 533.9,426.0 538.8,428.5 544.0,430.4 550.4,432.6 556.6,433.4 566.6,433.4 580.2,432.2 587.7,430.1 597.6,428.5 605.0,428.2 610.7,431.2 616.3,439.6 622.9,451.6 628.3,462.5 634.9,473.4 640.3,482.1 646.4,491.9 652.3,498.4 658.8,504.5 664.3,508.9 670.8,511.5 676.3,513.2 682.4,515.2 688.5,518.2 694.5,521.2 700.5,524.5 706.8,525.7 712.7,525.7 718.8,524.6 724.9,523.5 730.8,520.7 736.9,516.9 742.7,512.6 748.6,508.2 754.7,503.9 760.6,499.5" fill="none" stroke="#ff6a00" stroke-width="1.25" stroke-linejoin="round" stroke-linecap="round"/>
<text x="15.5" y="65" class="b" font-size="12px" fill="#555" textLength="131.5" lengthAdjust="spacingAndGlyphs">BTC/USD, 1, COINBASE</text>
<text x="15.5" y="82" font-size="12px" fill="#555" textLength="42.5" lengthAdjust="spacingAndGlyphs">Vol (20)</text>
<text x="15.5" y="399" font-size="12px" fill="#555" textLength="131" lengthAdjust="spacingAndGlyphs">MACD (12, 26, close, 9)</text>
<g shape-rendering="crispEdges" fill="#555555">
<rect x="6" y="43" width="874" height="1"/>
<rect x="6" y="571" width="874" height="1"/>
<rect x="6" y="43" width="1" height="529"/>
<rect x="879" y="43" width="1" height="529"/>
<rect x="824" y="43" width="1" height="504"/>
<rect x="6" y="377" width="874" height="1"/>
<rect x="6" y="546" width="819" height="1"/>
<rect x="825" y="53" width="3" height="1"/>
<rect x="825" y="84" width="3" height="1"/>
<rect x="825" y="115" width="3" height="1"/>
<rect x="825" y="145" width="3" height="1"/>
<rect x="825" y="176" width="3" height="1"/>
<rect x="825" y="207" width="3" height="1"/>
<rect x="825" y="238" width="3" height="1"/>
<rect x="825" y="269" width="3" height="1"/>
<rect x="825" y="299" width="3" height="1"/>
<rect x="825" y="330" width="3" height="1"/>
<rect x="825" y="361" width="3" height="1"/>
<rect x="825" y="405" width="3" height="1"/>
<rect x="825" y="444" width="3" height="1"/>
<rect x="825" y="482" width="3" height="1"/>
<rect x="825" y="521" width="3" height="1"/>
<rect x="71" y="547" width="1" height="3"/>
<rect x="161" y="547" width="1" height="3"/>
<rect x="251" y="547" width="1" height="3"/>
<rect x="341" y="547" width="1" height="3"/>
<rect x="431" y="547" width="1" height="3"/>
<rect x="521" y="547" width="1" height="3"/>
<rect x="611" y="547" width="1" height="3"/>
<rect x="701" y="547" width="1" height="3"/>
<rect x="791" y="547" width="1" height="3"/>
</g>
<text x="831.2" y="58.0" class="ax" textLength="39" lengthAdjust="spacingAndGlyphs">4000.00</text>
<text x="831.2" y="89.0" class="ax" textLength="39" lengthAdjust="spacingAndGlyphs">3980.00</text>
<text x="831.2" y="120.0" class="ax" textLength="39" lengthAdjust="spacingAndGlyphs">3960.00</text>
<text x="831.2" y="150.0" class="ax" textLength="39" lengthAdjust="spacingAndGlyphs">3940.00</text>
<text x="831.2" y="181.0" class="ax" textLength="39" lengthAdjust="spacingAndGlyphs">3920.00</text>
<text x="831.2" y="212.0" class="ax" textLength="39" lengthAdjust="spacingAndGlyphs">3900.00</text>
<text x="831.2" y="243.0" class="ax" textLength="39" lengthAdjust="spacingAndGlyphs">3880.00</text>
<text x="831.2" y="274.0" class="ax" textLength="39" lengthAdjust="spacingAndGlyphs">3860.00</text>
<text x="831.2" y="304.0" class="ax" textLength="39" lengthAdjust="spacingAndGlyphs">3840.00</text>
<text x="831.2" y="335.0" class="ax" textLength="39" lengthAdjust="spacingAndGlyphs">3820.00</text>
<text x="831.2" y="366.0" class="ax" textLength="39" lengthAdjust="spacingAndGlyphs">3800.00</text>
<text x="831.2" y="410.0" class="ax">0.0000</text>
<text x="831.2" y="449.0" class="ax">-10.0000</text>
<text x="831.2" y="487.0" class="ax">-20.0000</text>
<text x="831.2" y="526.0" class="ax">-30.0000</text>
<g shape-rendering="crispEdges">
<rect x="824" y="314" width="51" height="17" fill="#eb4d4d"/>
<rect x="824" y="322" width="3" height="1" fill="#ffffff"/>
<rect x="840" y="332" width="35" height="17" fill="#eb4d4d"/>
</g>
<text x="831" y="325.7" class="b" font-size="11px" fill="#fff" textLength="39" lengthAdjust="spacingAndGlyphs">3825.00</text>
<text x="842.6" y="343.7" class="b" font-size="11px" fill="#fff" textLength="27.4" lengthAdjust="spacingAndGlyphs">00:43</text>
<text x="71.0" y="564" class="ax" text-anchor="middle" textLength="26.8" lengthAdjust="spacingAndGlyphs">13:30</text>
<text x="161.0" y="564" class="ax" text-anchor="middle" textLength="26.8" lengthAdjust="spacingAndGlyphs">13:45</text>
<text x="251.0" y="564" class="ax b" text-anchor="middle" textLength="26.8" lengthAdjust="spacingAndGlyphs">14:00</text>
<text x="341.0" y="564" class="ax" text-anchor="middle" textLength="26.8" lengthAdjust="spacingAndGlyphs">14:15</text>
<text x="431.0" y="564" class="ax" text-anchor="middle" textLength="26.8" lengthAdjust="spacingAndGlyphs">14:30</text>
<text x="521.0" y="564" class="ax" text-anchor="middle" textLength="26.8" lengthAdjust="spacingAndGlyphs">14:45</text>
<text x="611.0" y="564" class="ax b" text-anchor="middle" textLength="26.8" lengthAdjust="spacingAndGlyphs">15:00</text>
<text x="701.0" y="564" class="ax" text-anchor="middle" textLength="26.8" lengthAdjust="spacingAndGlyphs">15:15</text>
<text x="791.0" y="564" class="ax" text-anchor="middle" textLength="26.8" lengthAdjust="spacingAndGlyphs">15:30</text>
<circle cx="31.5" cy="515" r="16.5" fill="#ffffff" stroke="#dedede" stroke-width="1.2"/>
<path d="M23.4 520.8 C21.9 520.8 20.9 519.8 20.9 518.4 L20.9 514.8 C20.9 513.4 22 512.6 23.4 512.6 C24 512.6 24.5 512.7 24.9 513 C24.9 510 26.6 507.8 29.3 507.8 C31.9 507.8 33.8 509.5 34.3 511.7 C35.3 510.9 36.6 510.6 38 510.8 C39.8 511.1 40.9 512.6 40.9 514.6 C42 515.3 42.6 516.6 42.6 518 C42.6 519.7 41.5 520.8 40 520.8 Z" fill="#2ea1f0"/>
<polyline points="21.4,518.9 29,512.3 34,517.5 39.1,512.4" fill="none" stroke="#ffffff" stroke-width="1.3" stroke-linejoin="round"/>
<circle cx="34" cy="517.6" r="1.5" fill="#ffffff"/>
<text x="7" y="17" class="hd"><tspan textLength="174" lengthAdjust="spacingAndGlyphs">Published on TradingView.com,</tspan><tspan x="186" textLength="171" lengthAdjust="spacingAndGlyphs">December 03, 2018 15:25 UTC</tspan></text>
<text x="6.1" y="34" class="hd b" textLength="123.8" lengthAdjust="spacingAndGlyphs">COINBASE:BTCUSD, 1</text>
<text x="135.5" y="34" class="hd" textLength="45" lengthAdjust="spacingAndGlyphs">3825.00</text>
<path d="M184 25 L195 25 L189.5 36 Z" fill="#aa0000"/>
<text x="198" y="34" class="hd" textLength="98.5" lengthAdjust="spacingAndGlyphs">−278.19 (−6.78%)</text>
<text x="301.4" y="34" class="hd b" textLength="12.8" lengthAdjust="spacingAndGlyphs">O:</text>
<text x="315.5" y="34" class="hd rd" textLength="44.5" lengthAdjust="spacingAndGlyphs">3825.01</text>
<text x="365.4" y="34" class="hd b" textLength="12.9" lengthAdjust="spacingAndGlyphs">H:</text>
<text x="379.7" y="34" class="hd rd" textLength="44.5" lengthAdjust="spacingAndGlyphs">3825.01</text>
<text x="429.1" y="34" class="hd b" textLength="9.5" lengthAdjust="spacingAndGlyphs">L:</text>
<text x="440.5" y="34" class="hd rd" textLength="45" lengthAdjust="spacingAndGlyphs">3825.00</text>
<text x="489.9" y="34" class="hd b" textLength="11.2" lengthAdjust="spacingAndGlyphs">C:</text>
<text x="502.5" y="34" class="hd rd" textLength="45" lengthAdjust="spacingAndGlyphs">3825.00</text>
</svg>
</body></html>
